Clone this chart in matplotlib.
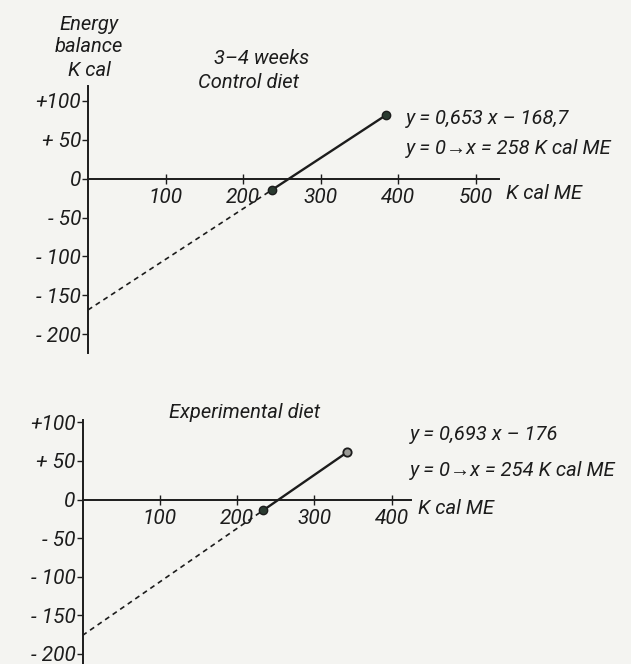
import matplotlib.pyplot as plt
import numpy as np

# energy balance vs metabolisable energy intake
control_x = [237, 384]
control_y = [-14.6, 81.4]
control_icpt = -168.7

exp_x = [234, 342]
exp_y = [-13.8, 61.0]
exp_icpt = -176

top_xticks = [100, 200, 300, 400, 500]
bot_xticks = [100, 200, 300, 400]
yticks = [100, 50, 0, -50, -100, -150, -200]
ylabels = ['+100', '+ 50', '0', '- 50', '- 100', '- 150', '- 200']

W, H = 631, 664
paper = '#f4f4f1'
ink = '#1c1c1c'
fam = ['Roboto', 'Liberation Sans', 'DejaVu Sans']

plt.rcParams['font.family'] = fam
plt.rcParams['font.style'] = 'italic'

fig = plt.figure(figsize=(W / 100, H / 100), dpi=100, facecolor=paper)


def px(x, y):
    return x / W, 1 - y / H


def rect(x0, x1, y0, y1):
    # pixel box -> figure fraction
    return [x0 / W, 1 - y1 / H, (x1 - x0) / W, (y1 - y0) / H]


def setup(ax, xmax, ylim, xt):
    ax.set_facecolor('none')
    ax.set_xlim(0, xmax)
    ax.set_ylim(*ylim)
    for s in ['top', 'right']:
        ax.spines[s].set_visible(False)
    ax.spines['bottom'].set_position(('data', 0))
    ax.spines['left'].set_position(('data', 0))
    for s in ['bottom', 'left']:
        ax.spines[s].set_linewidth(1.4)
        ax.spines[s].set_color(ink)
    ax.set_xticks(xt)
    ax.set_xticklabels([str(t) for t in xt])
    ax.set_yticks(yticks)
    ax.set_yticklabels(ylabels)
    ax.tick_params(axis='x', direction='inout', length=7, width=1, color=ink,
                   labelsize=15, pad=3, labelcolor=ink)
    ax.tick_params(axis='y', direction='out', length=4, width=1, color=ink,
                   labelsize=15, pad=1, labelcolor=ink)
    for lab in ax.get_xticklabels() + ax.get_yticklabels():
        lab.set_style('italic')


# upper panel: control diet
ax1 = fig.add_axes(rect(88, 499, 86, 353))
setup(ax1, 530, (-224, 119), top_xticks)
ax1.plot([0, control_x[0]], [control_icpt, control_y[0]], color=ink, lw=1.2,
         ls=(0, (3, 2.5)))
ax1.plot(control_x, control_y, color=ink, lw=1.7, marker='o', ms=6,
         markerfacecolor='#2a3a30', markeredgecolor=ink)

# lower panel: experimental diet
ax2 = fig.add_axes(rect(82.5, 411, 420, 664))
setup(ax2, 425, (-213, 103), bot_xticks)
ax2.plot([0, exp_x[0]], [exp_icpt, exp_y[0]], color=ink, lw=1.2,
         ls=(0, (3, 2.5)))
ax2.plot(exp_x, exp_y, color=ink, lw=1.7)
ax2.plot(exp_x[:1], exp_y[:1], 'o', ms=6, color='#2a3a30', mec=ink)
ax2.plot(exp_x[1:], exp_y[1:], 'o', ms=6, mfc='#9a9a96', mec=ink, mew=1.3)

tk = dict(fontsize=14.5, color=ink, style='italic', family=fam)

fig.text(*px(89, 25), 'Energy', ha='center', va='center', **tk)
fig.text(*px(89, 47), 'balance', ha='center', va='center', **tk)
fig.text(*px(89, 70), 'K cal', ha='center', va='center', **tk)
fig.text(*px(262, 58), '3\u20134 weeks', ha='center', va='center', **tk)
fig.text(*px(248, 82), 'Control diet', ha='center', va='center', **tk)
fig.text(*px(406, 119), 'y = 0,653 x \u2013 168,7', ha='left', va='center', **tk)
fig.text(*px(406, 149), 'y = 0\u2192x = 258 K cal ME', ha='left', va='center', **tk)
fig.text(*px(506, 193), 'K cal ME', ha='left', va='center', **tk)

fig.text(*px(245, 412), 'Experimental diet', ha='center', va='center', **tk)
fig.text(*px(410, 434), 'y = 0,693 x \u2013 176', ha='left', va='center', **tk)
fig.text(*px(410, 470), 'y = 0\u2192x = 254 K cal ME', ha='left', va='center', **tk)
fig.text(*px(418, 508), 'K cal ME', ha='left', va='center', **tk)

fig.savefig('out.png', dpi=100, facecolor=paper)
